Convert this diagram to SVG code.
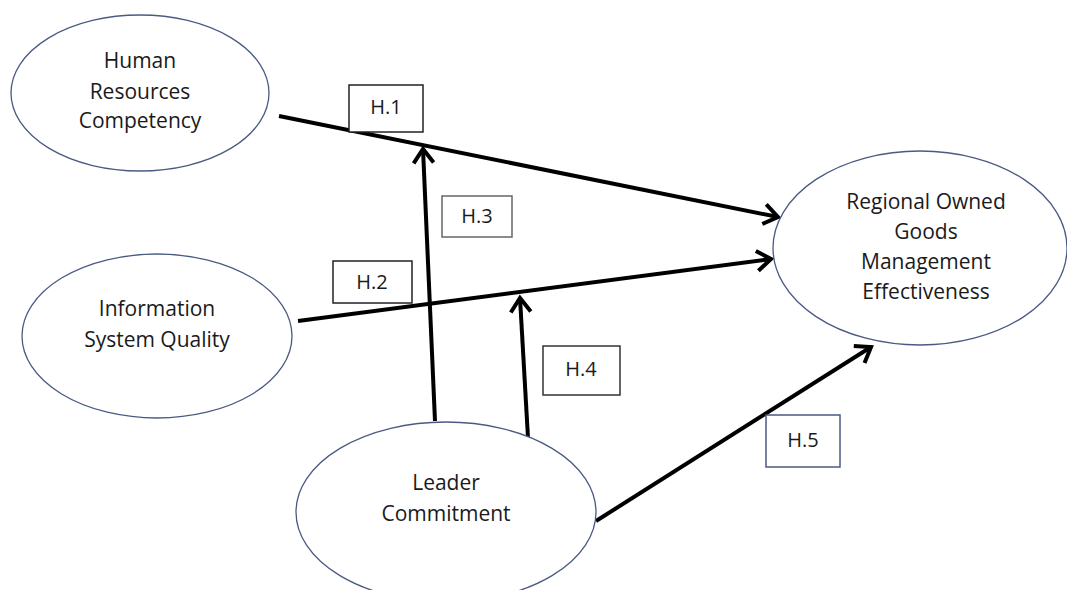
<svg xmlns="http://www.w3.org/2000/svg" width="1067" height="590" viewBox="0 0 1067 590">
<defs>
<style>
.node ellipse{fill:#fff;stroke:#4a5a82;stroke-width:1.3}
.node text,.lbl text{font-family:"Open Sans","Liberation Sans",sans-serif;font-size:21px;fill:#1a1a1a;text-anchor:middle}
.lbl rect{fill:#fff;stroke-width:1.5}
.lbl text{font-size:20px}
.conn line{stroke:#000;stroke-width:4;stroke-linecap:butt}
</style>
<marker id="arr" markerUnits="userSpaceOnUse" markerWidth="30" markerHeight="30" refX="0" refY="0" viewBox="-20 -15 30 30" orient="auto" overflow="visible">
<path d="M-14,-10 L0,0 L-14,10" fill="none" stroke="#000" stroke-width="4" stroke-linejoin="miter"/>
</marker>
</defs>
<rect width="1067" height="590" fill="#fff"/>
<g class="conn" id="connectors">
<line x1="279" y1="116" x2="778" y2="217" marker-end="url(#arr)"/>
<line x1="298" y1="321" x2="771" y2="259" marker-end="url(#arr)"/>
<line x1="435" y1="421" x2="423" y2="149" marker-end="url(#arr)"/>
<line x1="528" y1="438" x2="520" y2="298" marker-end="url(#arr)"/>
<line x1="596" y1="521" x2="871" y2="347" marker-end="url(#arr)"/>
</g>
<g class="node" id="hrc">
<ellipse cx="140" cy="93" rx="129" ry="78"/>
<text x="140" y="68">Human</text>
<text x="140" y="99">Resources</text>
<text x="140" y="128">Competency</text>
</g>
<g class="node" id="isq">
<ellipse cx="157" cy="336" rx="135" ry="82"/>
<text x="157" y="316">Information</text>
<text x="157" y="347">System Quality</text>
</g>
<g class="node" id="lc">
<ellipse cx="446" cy="512" rx="150" ry="90"/>
<text x="446" y="490">Leader</text>
<text x="446" y="521">Commitment</text>
</g>
<g class="node" id="rogme">
<ellipse cx="920" cy="248" rx="147" ry="97"/>
<text x="926" y="209">Regional Owned</text>
<text x="926" y="239">Goods</text>
<text x="926" y="269">Management</text>
<text x="926" y="299">Effectiveness</text>
</g>
<g class="lbl" id="h1">
<rect x="349" y="85" width="74" height="47" stroke="#222"/>
<text x="386" y="114">H.1</text>
</g>
<g class="lbl" id="h2">
<rect x="333" y="261" width="79" height="42" stroke="#222"/>
<text x="372" y="289">H.2</text>
</g>
<g class="lbl" id="h3">
<rect x="442" y="196" width="70" height="41" stroke="#666"/>
<text x="477" y="223">H.3</text>
</g>
<g class="lbl" id="h4">
<rect x="543" y="346" width="77" height="49" stroke="#333"/>
<text x="581" y="376">H.4</text>
</g>
<g class="lbl" id="h5">
<rect x="766" y="415" width="74" height="52" stroke="#4a5a82"/>
<text x="803" y="447">H.5</text>
</g>
</svg>
